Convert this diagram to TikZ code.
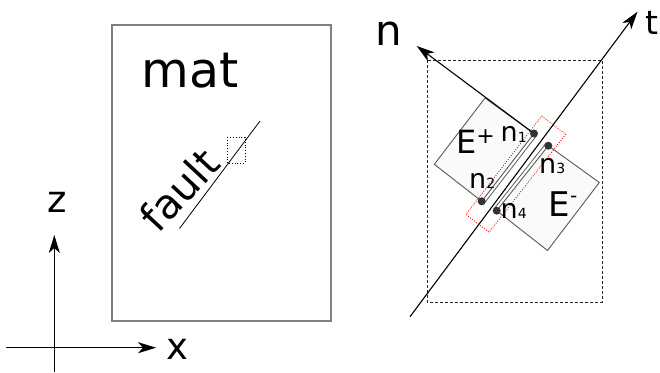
\documentclass[tikz,border=0pt]{standalone}
\usepackage{fontspec}
\setmainfont{DejaVu Sans}
\usetikzlibrary{arrows.meta,calc}
\newcommand{\fsz}[1]{\fontsize{#1}{#1}\selectfont}
\newcommand{\nsub}[1]{{\fsz{27}n}\raisebox{-0.5pt}{\fsz{14}#1}}
\begin{document}
\begin{tikzpicture}[x=1pt,y=-1pt,
  axis/.style={line width=1.1pt, -{Stealth[length=18pt,width=11pt,inset=5pt]}},
  elem/.style={draw=black!65, fill=black!2, line width=0.9pt},
  strip/.style={draw=black!65, line width=0.8pt},
  dotn/.style={circle, fill=black!80, inner sep=0pt, minimum size=8pt},
  lab/.style={inner sep=0pt, anchor=base west},
  txt/.style={inner sep=0pt}]
\useasboundingbox (0,0) rectangle (660,372);
% left panel
\draw[black!50, line width=1.1pt] (112,25) rectangle (331,321);
\node[txt, anchor=base] (mat) at (190,87) {\fsz{49}mat};
\coordinate (fa) at (179.5,228.5);
\coordinate (fb) at (260,121);
\draw[line width=0.8pt] (fa) -- (fb);
\draw[dotted, line width=0.8pt] (227,137) rectangle (245,163);
\node[txt, anchor=base, rotate=47] (fault) at (190.3,200) {\fsz{41}fault};
% axes
\coordinate (zo) at (54.3,372);
\coordinate (zt) at (54.3,235);
\draw[axis] (zo) -- (zt);
\coordinate (xo) at (6,347.7);
\coordinate (xt) at (156,347.7);
\draw[axis] (xo) -- (xt);
\node[txt] (zl) at (57.7,202.7) {\fsz{37}z};
\node[txt] (xl) at (177.5,349.5) {\fsz{37}x};
% right panel
\draw[black!85, line width=0.9pt, dash pattern=on 3pt off 2pt] (427,60) rectangle (602,302);
\coordinate (n1) at (534,133.5);
\coordinate (n2) at (481.7,201.3);
\coordinate (n3) at (548.3,145.7);
\coordinate (n4) at (496.7,210.7);
\coordinate (ept) at (485,98);
\coordinate (epl) at (434.3,164.3);
\coordinate (emr) at (599.3,182.5);
\coordinate (emb) at (547.5,250.5);
\draw[elem] (ept) -- (n1) -- (n2) -- (epl) -- cycle;
\draw[elem] (n3) -- (emr) -- (emb) -- (n4) -- cycle;
\draw[strip] (n1) -- ($(n1)+(2.6,2)$) -- ($(n2)+(2.6,2)$) -- (n2);
\draw[strip] (n3) -- ($(n3)+(-2.6,-2)$) -- ($(n4)+(-2.6,-2)$) -- (n4);
\draw[red, line width=0.8pt, dash pattern=on 1pt off 1.5pt]
  (541.7,116) -- (565.7,134.3) -- (489,232.3) -- (466,214.3) -- cycle;
\coordinate (to) at (410,316.7);
\coordinate (tt) at (637.5,11.7);
\draw[axis] (to) -- (tt);
\coordinate (nt) at (416.7,46);
\draw[axis] (n1) -- (nt);
\node[dotn] (d1) at (n1) {};
\node[dotn] (d2) at (n2) {};
\node[dotn] (d3) at (n3) {};
\node[dotn] (d4) at (n4) {};
\node[txt] (nl) at (389,33.3) {\fsz{42}n};
\node[txt] (tl) at (652.3,23.3) {\fsz{33}t};
\node[lab] (ep) at (456,153.3) {{\fsz{32}E}\raisebox{9.7pt}{\fsz{22}+}};
\node[lab] (em) at (548.5,216.7) {{\fsz{34}E}\raisebox{14pt}{\fsz{20}-}};
\node[lab] (l1) at (500.5,141.7) {\nsub{1}};
\node[lab] (l2) at (469,188.3) {\nsub{2}};
\node[lab] (l3) at (539,173.3) {\nsub{3}};
\node[lab] (l4) at (500.5,218.3) {\nsub{4}};
\end{tikzpicture}
\end{document}
